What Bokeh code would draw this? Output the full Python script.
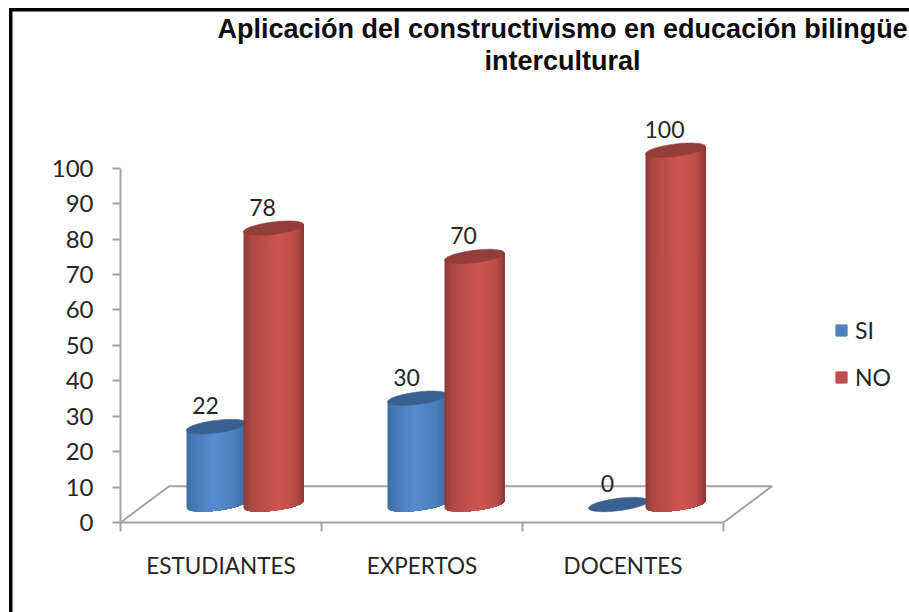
from bokeh.plotting import figure
from bokeh.models import (ColumnDataSource, FixedTicker, Legend, LegendItem, Title, Range1d)
from bokeh.core.properties import value
from bokeh.embed import file_html
from bokeh.resources import INLINE
import numpy as np

title_line1 = "Aplicación del constructivismo  en educación bilingüe"
title_line2 = "intercultural"
categories = ["ESTUDIANTES", "EXPERTOS", "DOCENTES"]
si_values = [22, 30, 0]
no_values = [78, 70, 100]
y_ticks = [0, 10, 20, 30, 40, 50, 60, 70, 80, 90, 100]

FONT = "Lato"
GREY = "#a3a3a3"
TEXT = "#262626"
PX_X = 201.0      # px per category
PX_Y = 3.543      # px per value unit
FRAME_W, FRAME_H = 789, 447

p = figure(frame_width=FRAME_W, frame_height=FRAME_H, output_backend="svg", toolbar_location=None,
           x_range=Range1d(0, FRAME_W / PX_X), y_range=Range1d(0, FRAME_H / PX_Y),
           min_border_left=120, min_border_right=0, min_border_top=75, min_border_bottom=90,
           border_fill_color=None, background_fill_color=None)
p.outline_line_color = None
p.grid.visible = False
# the black frame of the picture: two bars painted behind the transparent canvas
p.styles = {"background-color": "white",
            "background-image": "linear-gradient(black,black),linear-gradient(black,black)",
            "background-size": "3.5px 100%, 100% 3.5px",
            "background-position": "9px 8px, 9px 7.5px",
            "background-repeat": "no-repeat"}

for txt, off in ((title_line2, 364), (title_line1, 97)):
    p.add_layout(Title(text=txt, align="left", offset=off, text_font="Liberation Sans",
                       text_font_style="bold", text_font_size="27px", text_color="#0d0d0d",
                       standoff=0), "above")

# axes
xa = p.xaxis[0]
xa.ticker = FixedTicker(ticks=[0.5, 1.5, 2.5], minor_ticks=[0, 1, 2, 3])
xa.major_label_overrides = {0.5: categories[0], 1.5: categories[1], 2.5: categories[2]}
xa.major_tick_out = 0
xa.major_tick_in = 0
xa.minor_tick_out = 9
xa.minor_tick_in = 0
xa.minor_tick_line_color = GREY
xa.minor_tick_line_width = 2
xa.axis_line_color = GREY
xa.axis_line_width = 2
xa.bounds = (0, 3)
xa.major_label_text_font = FONT
xa.major_label_text_font_size = "22.5px"
xa.major_label_text_color = TEXT
xa.major_label_standoff = 20

ya = p.yaxis[0]
ya.ticker = FixedTicker(ticks=y_ticks)
ya.bounds = (0, 100)
ya.minor_tick_out = 0
ya.minor_tick_in = 0
ya.major_tick_out = 8
ya.major_tick_in = 0
ya.major_tick_line_color = GREY
ya.major_tick_line_width = 2
ya.axis_line_color = GREY
ya.axis_line_width = 2
ya.major_label_text_font = FONT
ya.major_label_text_font_size = "24px"
ya.major_label_text_color = TEXT
ya.major_label_standoff = 19

# floor
DX = 48.5 / PX_X
DV = 36.2 / PX_Y
p.line([0, DX, 3 + DX, 3], [0, DV, DV, 0], line_color=GREY, line_width=2)

# cylinders
A = 30.0 / PX_X
B = 6.2 / PX_Y
TILT = 3.6 / PX_Y
V0 = 18.0 / PX_Y
N = 48


def lerp_stops(stops, u):
    xs = [s[0] for s in stops]
    out = [np.interp(u, xs, [s[1][k] for s in stops]) for k in range(3)]
    return "#%02x%02x%02x" % tuple(int(round(c)) for c in out)


BLUE = [(-1.0, (62, 108, 164)), (-0.75, (72, 121, 180)), (-0.1, (87, 139, 207)),
        (0.6, (77, 127, 189)), (0.92, (64, 108, 164)), (1.0, (58, 98, 150))]
RED = [(-1.0, (140, 58, 56)), (-0.75, (172, 72, 69)), (0.15, (205, 85, 82)),
       (0.7, (188, 78, 75)), (0.94, (150, 62, 60)), (1.0, (128, 52, 50))]
BLUE_CAP = "#38618f"
RED_CAP = "#943e3c"


def cylinder(cx, val, stops, cap):
    if val > 0:
        # strips are painted left to right, each one overlapping the next, so no seams appear
        edges = np.linspace(-1, 1, N + 1)
        for a in edges[:-1]:
            us = np.linspace(a, 1, 40)
            low = V0 + TILT * us - B * np.sqrt(np.clip(1 - us**2, 0, 1))
            high = V0 + val + TILT * us
            p.patch(list(cx + A * us) + list(cx + A * us[::-1]), list(low) + list(high[::-1]),
                    fill_color=lerp_stops(stops, a + 1 / N), line_color=None)
    t = np.linspace(0, 2 * np.pi, 80)
    p.patch(cx + A * np.cos(t), V0 + val + TILT * np.cos(t) + B * np.sin(t),
            fill_color=cap, line_color=cap, line_width=0.6)


BLUE_OFF = 96.0 / PX_X
RED_OFF = 153.0 / PX_X
lab_x, lab_y, lab_t = [], [], []
for i in range(len(categories)):
    cylinder(i + BLUE_OFF, si_values[i], BLUE, BLUE_CAP)
    cylinder(i + RED_OFF, no_values[i], RED, RED_CAP)
    lab_x += [i + BLUE_OFF, i + RED_OFF]
    lab_y += [V0 + si_values[i], V0 + no_values[i]]
    lab_t += [str(si_values[i]), str(no_values[i])]

p.text(x="x", y="y", text="t", source=ColumnDataSource(dict(x=lab_x, y=lab_y, t=lab_t)),
       text_align="center", text_baseline="middle", x_offset=-11, y_offset=-21,
       text_font=value(FONT), text_font_size="23px", text_color=TEXT)

# legend
nan = [float("nan")]
r_si = p.quad(left=nan, right=nan, top=nan, bottom=nan, fill_color="#4f81bd", line_color="#4f81bd")
r_no = p.quad(left=nan, right=nan, top=nan, bottom=nan, fill_color="#c0504d", line_color="#c0504d")
legend = Legend(items=[LegendItem(label="SI", renderers=[r_si]), LegendItem(label="NO", renderers=[r_no])],
                location=(714, 131), background_fill_alpha=0, border_line_color=None,
                padding=0, margin=0, spacing=19, glyph_width=14, glyph_height=14, label_standoff=7,
                label_text_font=FONT, label_text_font_size="23px", label_text_color=TEXT)
p.add_layout(legend)

open("out.html", "w").write(file_html(p, INLINE))
